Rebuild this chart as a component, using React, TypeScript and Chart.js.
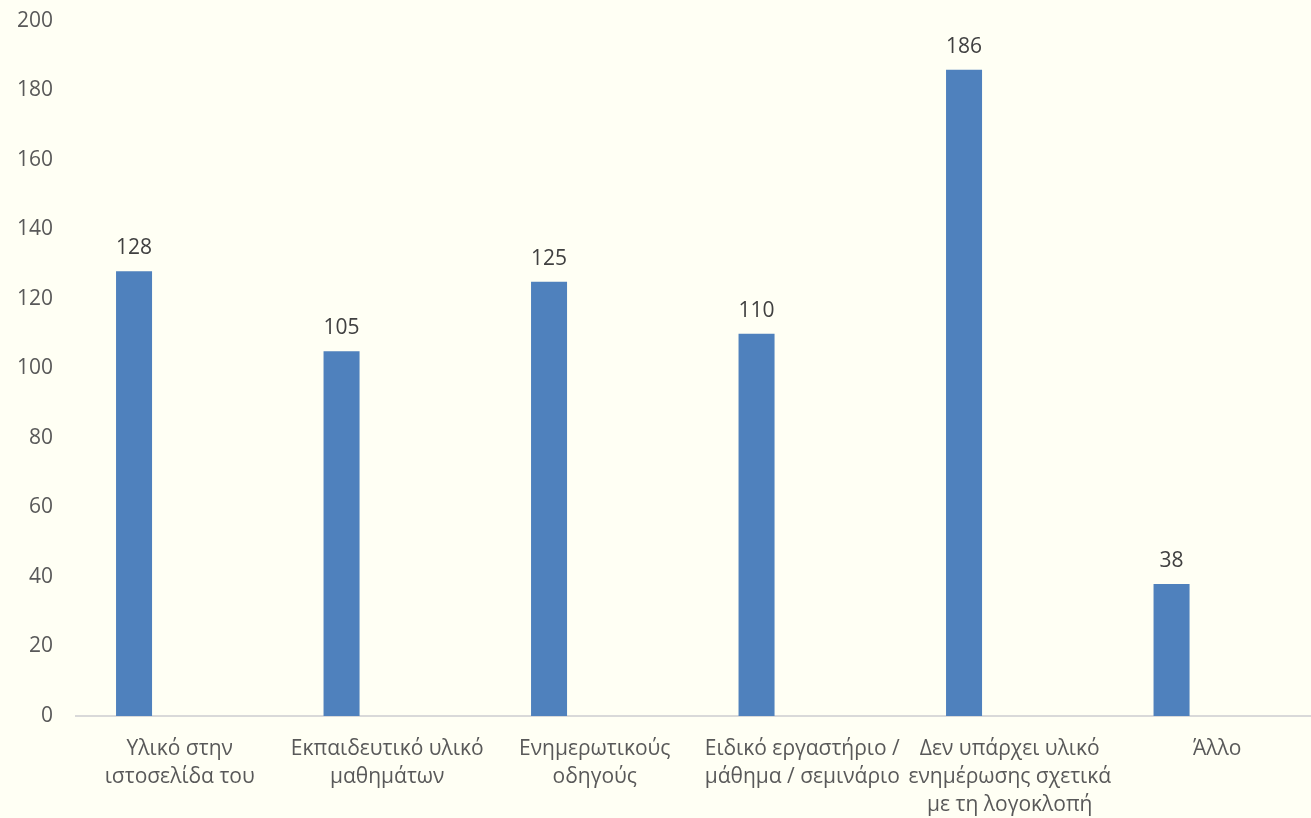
import React, { useEffect, useRef } from "react";
import { Chart, registerables } from "chart.js";

Chart.register(...registerables);

const categories: (string | string[])[] = [
  ["Υλικό στην", "ιστοσελίδα του"],
  ["Εκπαιδευτικό υλικό", "μαθημάτων"],
  ["Ενημερωτικούς", "οδηγούς"],
  ["Ειδικό εργαστήριο /", "μάθημα / σεμινάριο"],
  ["Δεν υπάρχει υλικό", "ενημέρωσης σχετικά", "με τη λογοκλοπή"],
  ["Άλλο"],
];
const seriesValues: number[] = [128, 105, 125, 110, 186, 38];
const emptySeries: (number | null)[] = [null, null, null, null, null, null];
const yTicks = { min: 0, max: 200, step: 20 };

const BG = "#FFFFF4";
const FONT = "'Open Sans', 'Noto Sans', sans-serif";

const valueLabels = {
  id: "valueLabels",
  afterDatasetsDraw(chart: any) {
    const ctx = chart.ctx;
    const meta = chart.getDatasetMeta(0);
    ctx.save();
    ctx.fillStyle = "#404040";
    ctx.font = `21px ${FONT}`;
    ctx.textAlign = "center";
    ctx.textBaseline = "alphabetic";
    meta.data.forEach((bar: any, i: number) => {
      const v = chart.data.datasets[0].data[i];
      if (v == null) return;
      ctx.fillText(String(v), bar.x, bar.y - 17);
    });
    ctx.restore();
  },
};

export default function App() {
  const ref = useRef<HTMLCanvasElement>(null);
  useEffect(() => {
    document.body.style.margin = "0";
    document.body.style.overflow = "hidden";
    document.body.style.background = BG;
    const chart = new Chart(ref.current!, {
      type: "bar",
      data: {
        labels: categories,
        datasets: [
          {
            label: "Σειρά 1",
            data: seriesValues,
            backgroundColor: "#4F81BD",
            barPercentage: 0.394,
            categoryPercentage: 0.881,
          },
          {
            label: "",
            data: emptySeries,
            backgroundColor: "#C0504D",
            barPercentage: 0.394,
            categoryPercentage: 0.881,
          },
        ],
      },
      options: {
        animation: false,
        responsive: false,
        maintainAspectRatio: false,
        layout: { padding: { top: 0, right: 0, left: 0, bottom: 0 } },
        plugins: {
          legend: { display: false },
          tooltip: { enabled: false },
        },
        scales: {
          x: {
            grid: { display: false, drawTicks: false },
            border: { display: true, color: "#D9D9D9", width: 2 },
            ticks: {
              color: "#595959",
              font: { family: FONT, size: 21, lineHeight: 1.33 },
              autoSkip: false,
              maxRotation: 0,
              minRotation: 0,
              padding: 19,
            },
            afterFit(scale: any) {
              scale.height = 102;
            },
          },
          y: {
            min: yTicks.min,
            max: yTicks.max,
            grid: { display: false, drawTicks: false },
            border: { display: false },
            ticks: {
              stepSize: yTicks.step,
              color: "#595959",
              font: { family: FONT, size: 21 },
              padding: 23,
            },
            afterFit(scale: any) {
              scale.width = 76;
              scale.paddingTop = 21;
              scale.paddingBottom = 0;
            },
          },
        },
      },
      plugins: [valueLabels],
    });
    return () => chart.destroy();
  }, []);
  return (
    <div style={{ width: 1321, height: 818, background: BG }}>
      <canvas ref={ref} width={1321} height={818} style={{ display: "block" }} />
    </div>
  );
}
